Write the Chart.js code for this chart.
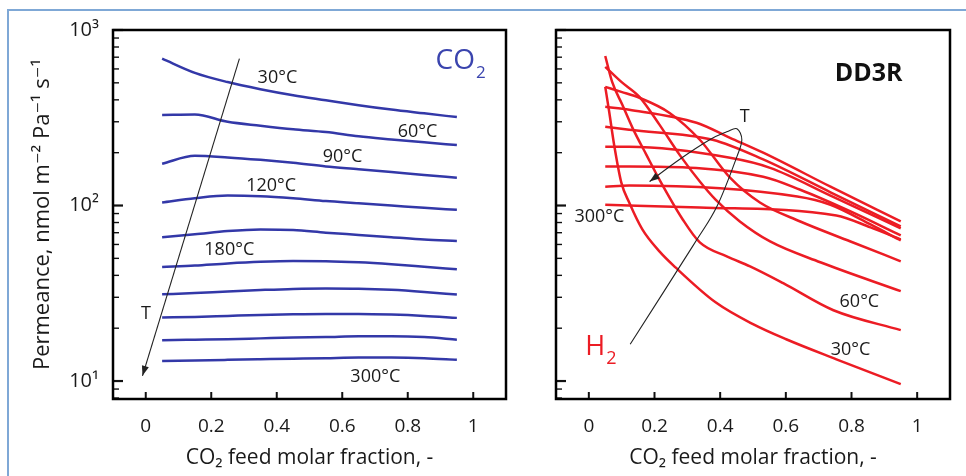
<!DOCTYPE html>
<html><head><meta charset="utf-8">
<script src="https://cdn.jsdelivr.net/npm/chart.js@4.4.1/dist/chart.umd.min.js"></script>
<style>
html,body{margin:0;padding:0;background:#fff;width:966px;height:476px;overflow:hidden}
#frame{position:absolute;left:7px;top:9px;width:1100px;height:600px;border:2px solid #7fa8d6;box-sizing:border-box}
canvas{position:absolute;top:0}
#c1{left:0}
#c2{left:520px}
</style></head><body>
<div id="frame"></div>
<canvas id="c1" width="520" height="476"></canvas>
<canvas id="c2" width="446" height="476"></canvas>
<script>
// ---------- axis ticks ----------
const xTickValues = [0, 0.2, 0.4, 0.6, 0.8, 1];
const xTickLabels = ['0', '0.2', '0.4', '0.6', '0.8', '1'];
const yTickValues = [10, 100, 1000];
const yTickLabels = ['10¹', '10²', '10³'];
const temps = ['30°C','60°C','90°C','120°C','150°C','180°C','210°C','240°C','270°C','300°C'];

// ---------- CO2 permeance (left) ----------
const co2X   = [0.05, 0.15, 0.25, 0.35, 0.45, 0.55, 0.65, 0.75, 0.85, 0.95];
const co2_30  = [687, 570, 505, 460, 425, 398, 373, 352, 335, 319];
const co2_60  = [328, 330, 300, 285, 272, 262, 248, 238, 229, 221];
const co2_90  = [173, 192, 188, 182, 175, 167, 161, 155, 149, 144];
const co2_120 = [104, 110, 114, 113, 110, 106, 103, 100, 97, 94.5];
const co2_150 = [66, 68.5, 71.5, 73, 72.5, 70, 68, 66, 64, 62.7];
const co2_180 = [44.6, 45.5, 46.8, 47.8, 48.3, 48.2, 47.5, 46.3, 44.8, 43.3];
const co2_210 = [31.2, 31.7, 32.4, 33.0, 33.5, 33.7, 33.6, 33.1, 32.2, 31.1];
const co2_240 = [23.0, 23.2, 23.5, 23.8, 24.0, 24.1, 24.1, 23.9, 23.5, 22.9];
const co2_270 = [17.1, 17.2, 17.3, 17.5, 17.7, 17.8, 18.0, 18.0, 17.8, 17.2];
const co2_300 = [13.0, 13.1, 13.2, 13.3, 13.4, 13.5, 13.6, 13.6, 13.5, 13.2];

// ---------- H2 permeance (right) ----------
const h2_30_x  = [0.05, 0.062, 0.077, 0.099, 0.123, 0.163, 0.215, 0.264, 0.386, 0.5, 0.601, 0.754, 0.95];
const h2_30_y  = [474, 342, 222, 135, 104, 73.1, 54.8, 44.4, 28.1, 21.1, 17.3, 13.3, 9.6];
const h2_60_x  = [0.05, 0.071, 0.102, 0.133, 0.175, 0.215, 0.286, 0.338, 0.42, 0.491, 0.592, 0.745, 0.95];
const h2_60_y  = [711, 506, 375, 277, 195, 140.5, 83.3, 61.6, 51.3, 45.0, 36.1, 25.3, 19.5];
const h2_90_x  = [0.05, 0.099, 0.154, 0.215, 0.276, 0.338, 0.386, 0.46, 0.552, 0.705, 0.95];
const h2_90_y  = [617, 506, 416, 289, 195, 137, 108, 81.1, 62.4, 47.5, 32.5];
const h2_120_x = [0.05, 0.099, 0.154, 0.246, 0.338, 0.43, 0.521, 0.644, 0.797, 0.95];
const h2_120_y = [474, 444, 411, 337, 237, 144, 104, 81.1, 62.4, 48.1];
const h2_150_x = [0.05, 0.123, 0.328, 0.43, 0.531, 0.736, 0.95];
const h2_150_y = [365, 351, 296, 243, 200, 128, 81.1];
const h2_180_x = [0.05, 0.123, 0.377, 0.531, 0.736, 0.95];
const h2_180_y = [281, 270, 237, 183, 119, 76.0];
const h2_210_x = [0.05, 0.123, 0.43, 0.552, 0.736, 0.95];
const h2_210_y = [216, 216, 187, 164, 114, 74.0];
const h2_240_x = [0.05, 0.123, 0.531, 0.644, 0.797, 0.95];
const h2_240_y = [167, 167, 146, 123, 92.5, 67.5];
const h2_270_x = [0.05, 0.123, 0.635, 0.736, 0.858, 0.95];
const h2_270_y = [128, 130, 112.5, 101, 78.0, 63.3];
const h2_300_x = [0.05, 0.338, 0.754, 0.858, 0.95];
const h2_300_y = [101, 97.4, 87.8, 75.0, 64.1];

const FONT = '"Open Sans", "DejaVu Sans", sans-serif';
const BLUE = '#3338a8';
const RED = '#ec1c24';
const INK = '#1a1a1a';

const co2Series = [co2_30, co2_60, co2_90, co2_120, co2_150, co2_180, co2_210, co2_240, co2_270, co2_300];
const h2Series = [
  [h2_30_x, h2_30_y], [h2_60_x, h2_60_y], [h2_90_x, h2_90_y], [h2_120_x, h2_120_y], [h2_150_x, h2_150_y],
  [h2_180_x, h2_180_y], [h2_210_x, h2_210_y], [h2_240_x, h2_240_y], [h2_270_x, h2_270_y], [h2_300_x, h2_300_y]
];

// ---------- annotations (data coordinates) ----------
const leftTexts = [
  {t:'30°C', x:0.402, y:541}, {t:'60°C', x:0.830, y:267}, {t:'90°C', x:0.601, y:192},
  {t:'120°C', x:0.383, y:132}, {t:'180°C', x:0.255, y:57}, {t:'300°C', x:0.701, y:10.8},
  {t:'T', x:0.001, y:24.7}
];
const rightTexts = [
  {t:'T', x:0.475, y:324}, {t:'300°C', x:0.032, y:87.7}, {t:'60°C', x:0.824, y:28.8}, {t:'30°C', x:0.797, y:15.4}
];
const leftArrow = [[0.286, 687], [-0.010, 10.7]];
const rightArrow = [[0.126,16.2],[0.316,58.5],[0.390,98.7],[0.451,190],[0.466,237],[0.451,274],[0.420,263],[0.368,237],[0.276,183],[0.185,137]];

function drawArrowPath(ctx, pts, smooth) {
  ctx.beginPath();
  ctx.moveTo(pts[0][0], pts[0][1]);
  if (!smooth) {
    for (let i = 1; i < pts.length; i++) ctx.lineTo(pts[i][0], pts[i][1]);
  } else {
    for (let i = 0; i < pts.length - 1; i++) {
      const p0 = pts[Math.max(i - 1, 0)], p1 = pts[i], p2 = pts[i + 1], p3 = pts[Math.min(i + 2, pts.length - 1)];
      const c1 = [p1[0] + (p2[0] - p0[0]) / 6, p1[1] + (p2[1] - p0[1]) / 6];
      const c2 = [p2[0] - (p3[0] - p1[0]) / 6, p2[1] - (p3[1] - p1[1]) / 6];
      ctx.bezierCurveTo(c1[0], c1[1], c2[0], c2[1], p2[0], p2[1]);
    }
  }
  ctx.stroke();
  const e = pts[pts.length - 1], p = pts[pts.length - 2];
  const ang = Math.atan2(e[1] - p[1], e[0] - p[0]);
  const L = 10, W = 3.6;
  ctx.beginPath();
  ctx.moveTo(e[0], e[1]);
  ctx.lineTo(e[0] - L * Math.cos(ang) + W * Math.sin(ang), e[1] - L * Math.sin(ang) - W * Math.cos(ang));
  ctx.lineTo(e[0] - L * Math.cos(ang) - W * Math.sin(ang), e[1] - L * Math.sin(ang) + W * Math.cos(ang));
  ctx.closePath();
  ctx.fill();
}

function makeDecor(cfg) {
  return {
    id: 'decor',
    afterDraw(chart) {
      const {ctx, chartArea: a, scales: {x, y}} = chart;
      ctx.save();
      // inward ticks
      ctx.strokeStyle = '#111';
      for (const d of [1, 10, 100, 1000]) {
        for (let m = 1; m <= 9; m++) {
          const v = m * d;
          if (v < y.min - 1e-9 || v > y.max + 1e-9) continue;
          const py = y.getPixelForValue(v);
          const len = m === 1 ? 10 : 6;
          ctx.lineWidth = m === 1 ? 2.2 : 1.4;
          ctx.beginPath(); ctx.moveTo(a.left, py); ctx.lineTo(a.left + len, py); ctx.stroke();
        }
      }
      ctx.lineWidth = 2;
      for (const v of xTickValues) {
        const px = x.getPixelForValue(v);
        ctx.beginPath(); ctx.moveTo(px, a.bottom); ctx.lineTo(px, a.bottom - 7); ctx.stroke();
      }
      ctx.lineWidth = 2.5;
      ctx.strokeStyle = '#000';
      ctx.strokeRect(a.left, a.top, a.right - a.left, a.bottom - a.top);

      // text labels
      ctx.textAlign = 'center';
      ctx.textBaseline = 'alphabetic';
      for (const it of cfg.texts) {
        const fs = it.size || 18;
        ctx.font = (it.bold ? 'bold ' : '') + fs + 'px ' + FONT;
        ctx.fillStyle = it.color || INK;
        ctx.fillText(it.t, x.getPixelForValue(it.x), y.getPixelForValue(it.y) + 0.36 * fs);
      }
      // rich labels (with subscript)
      for (const r of cfg.rich || []) {
        let cx = x.getPixelForValue(r.x);
        const base = y.getPixelForValue(r.y) + 0.36 * r.size;
        ctx.textAlign = 'left';
        ctx.fillStyle = r.color;
        ctx.font = r.size + 'px ' + FONT;
        ctx.fillText(r.main, cx, base);
        cx += ctx.measureText(r.main).width + 1;
        ctx.font = r.subSize + 'px ' + FONT;
        ctx.fillText(r.sub, cx, base + r.dy);
      }
      // arrows
      ctx.strokeStyle = '#222';
      ctx.fillStyle = '#222';
      ctx.lineWidth = 1.1;
      for (const ar of cfg.arrows) {
        const pts = ar.pts.map(p => [x.getPixelForValue(p[0]), y.getPixelForValue(p[1])]);
        drawArrowPath(ctx, pts, ar.smooth);
      }
      ctx.restore();
    }
  };
}

function makeOptions(isLeft) {
  return {
    responsive: false,
    animation: false,
    devicePixelRatio: 1,
    layout: {padding: {left: 0, top: 30, right: isLeft ? 14 : 16, bottom: 0}},
    plugins: {legend: {display: false}, tooltip: {enabled: false}},
    elements: {point: {radius: 0}, line: {borderWidth: 2.5, cubicInterpolationMode: 'monotone'}},
    scales: {
      x: {
        type: 'linear', min: -0.1, max: 1.1,
        grid: {display: false, drawTicks: false}, border: {display: false},
        afterBuildTicks(s) { s.ticks = xTickValues.map(v => ({value: v})); },
        afterFit(s) { s.height = 77; },
        ticks: {padding: 16, color: INK, font: {family: FONT, size: 19}, maxRotation: 0, autoSkip: false,
                callback: (v, i) => xTickLabels[i]},
        title: {display: true, text: 'CO₂ feed molar fraction, -', color: INK,
                font: {family: FONT, size: 21}, padding: {top: 0, bottom: 5}}
      },
      y: {
        type: 'logarithmic', min: 7.9, max: 1000,
        grid: {display: false, drawTicks: false}, border: {display: false},
        afterBuildTicks(s) { s.ticks = yTickValues.map(v => ({value: v})); },
        afterFit(s) { s.width = isLeft ? 113 : 36; },
        ticks: {display: isLeft, padding: 14, color: INK, font: {family: FONT, size: 20}, autoSkip: false,
                callback: (v, i) => yTickLabels[i]},
        title: {display: isLeft, text: 'Permeance, nmol m⁻² Pa⁻¹ s⁻¹', color: INK,
                font: {family: FONT, size: 22}, padding: {top: 30, bottom: 0}}
      }
    }
  };
}

new Chart(document.getElementById('c1'), {
  type: 'line',
  data: {
    datasets: co2Series.map((s, k) => ({
      label: temps[k],
      data: co2X.map((xv, i) => ({x: xv, y: s[i]})),
      borderColor: BLUE, backgroundColor: BLUE, fill: false
    }))
  },
  options: makeOptions(true),
  plugins: [makeDecor({
    texts: leftTexts,
    rich: [{main: 'CO', sub: '2', x: 0.885, y: 687, size: 28, subSize: 17, dy: 9, color: '#3a44ae'}],
    arrows: [{pts: leftArrow, smooth: false}]
  })]
});

new Chart(document.getElementById('c2'), {
  type: 'line',
  data: {
    datasets: h2Series.map((s, k) => ({
      label: temps[k],
      data: s[0].map((xv, i) => ({x: xv, y: s[1][i]})),
      borderColor: RED, backgroundColor: RED, fill: false
    }))
  },
  options: makeOptions(false),
  plugins: [makeDecor({
    texts: rightTexts.concat([{t: 'DD3R', x: 0.852, y: 577, size: 25, bold: true, color: '#111'}]),
    rich: [{main: 'H', sub: '2', x: -0.011, y: 15.9, size: 27, subSize: 18, dy: 9, color: RED}],
    arrows: [{pts: rightArrow, smooth: true}]
  })]
});
</script>
</body></html>
